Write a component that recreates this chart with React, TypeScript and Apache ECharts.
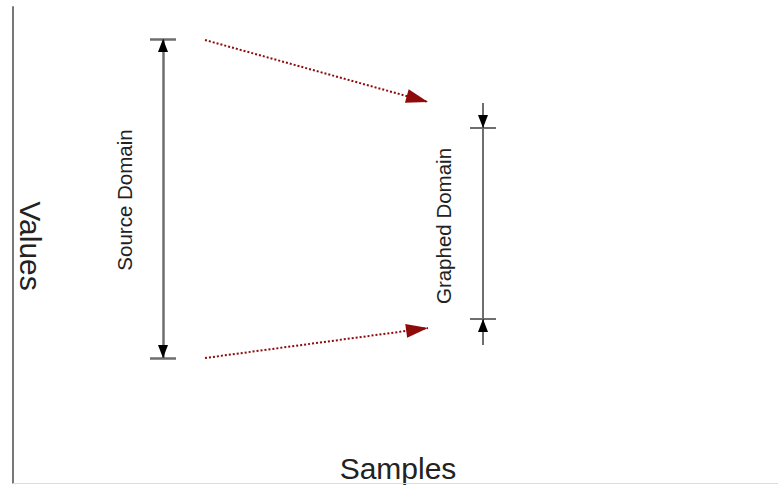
import React, { useEffect, useRef } from "react";
import * as echarts from "echarts";

// Diagram coordinates (x: samples axis units, y: value axis units)
const xRange = [0, 765];
const yRange = [0, 476];

const sourceX = 150;
const sourceDomain = [125, 444];
const sourceCapHalf = 13;

const graphedX = 470;
const graphedDomain = [164, 355];
const graphedExtent = [138, 380];
const graphedCapHalf = 13;

const mappingStartX = 192;
const mappingEndX = 415;
const mappingUpper = [443, 381];
const mappingLower = [125, 155];

const axisTitles = { x: "Samples", y: "Values" };
const domainLabels = { source: "Source Domain", graphed: "Graphed Domain" };

const GRAY = "#6e6e6e";
const RED = "#8f0a0a";
const BLACK_ARROW: [number, number] = [10, 13];
const RED_ARROW: [number, number] = [14, 22];

function arrowEnd(coord: number[], size: [number, number]) {
  return { coord, symbol: "triangle", symbolSize: size, symbolOffset: [0, size[1] / 2] };
}
function plainEnd(coord: number[]) {
  return { coord, symbol: "none" };
}

export default function App() {
  const ref = useRef<HTMLDivElement>(null);
  useEffect(() => {
    if (!ref.current) return;
    const chart = echarts.init(ref.current, undefined, { renderer: "svg" });
    const sourceLines = [
      [plainEnd([sourceX, sourceDomain[0]]), plainEnd([sourceX, sourceDomain[1]])],
      [plainEnd([sourceX - sourceCapHalf, sourceDomain[0]]), plainEnd([sourceX + sourceCapHalf, sourceDomain[0]])],
      [plainEnd([sourceX - sourceCapHalf, sourceDomain[1]]), plainEnd([sourceX + sourceCapHalf, sourceDomain[1]])],
    ];
    const graphedLines = [
      [plainEnd([graphedX, graphedExtent[0]]), plainEnd([graphedX, graphedExtent[1]])],
      [plainEnd([graphedX - graphedCapHalf, graphedDomain[0]]), plainEnd([graphedX + graphedCapHalf, graphedDomain[0]])],
      [plainEnd([graphedX - graphedCapHalf, graphedDomain[1]]), plainEnd([graphedX + graphedCapHalf, graphedDomain[1]])],
    ];
    // black arrowheads: short segments ending on the domain limits
    const arrowHeads = [
      [plainEnd([sourceX, sourceDomain[0] + 5]), arrowEnd([sourceX, sourceDomain[0]], BLACK_ARROW)],
      [plainEnd([sourceX, sourceDomain[1] - 5]), arrowEnd([sourceX, sourceDomain[1]], BLACK_ARROW)],
      [plainEnd([graphedX, graphedDomain[1] + 5]), arrowEnd([graphedX, graphedDomain[1]], BLACK_ARROW)],
      [plainEnd([graphedX, graphedDomain[0] - 5]), arrowEnd([graphedX, graphedDomain[0]], BLACK_ARROW)],
    ];
    const redLines = [
      [plainEnd([mappingStartX, mappingUpper[0]]), arrowEnd([mappingEndX, mappingUpper[1]], RED_ARROW)],
      [plainEnd([mappingStartX, mappingLower[0]]), arrowEnd([mappingEndX, mappingLower[1]], RED_ARROW)],
    ];

    const ml = (data: any[], lineStyle: any) => ({
      type: "line",
      data: [],
      silent: true,
      markLine: {
        silent: true,
        animation: false,
        label: { show: false },
        lineStyle,
        emphasis: { disabled: true },
        data,
      },
    });

    const text = (t: string, x: number, y: number, rot: number, size: number) => ({
      type: "text",
      x,
      y,
      rotation: rot,
      style: {
        text: t,
        font: `${size}px "Liberation Sans", Arial, sans-serif`,
        fill: "#222",
        align: "center",
        verticalAlign: "middle",
      },
    });

    chart.setOption({
      animation: false,
      backgroundColor: "#ffffff",
      grid: { left: 13, right: 0, top: 7, bottom: 2 },
      xAxis: {
        type: "value",
        min: xRange[0],
        max: xRange[1],
        axisLine: { show: true, onZero: false, lineStyle: { color: "#dcdcdc", width: 1 } },
        axisTick: { show: false },
        axisLabel: { show: false },
        splitLine: { show: false },
      },
      yAxis: {
        type: "value",
        min: yRange[0],
        max: yRange[1],
        axisLine: { show: true, onZero: false, lineStyle: { color: "#777777", width: 2 } },
        axisTick: { show: false },
        axisLabel: { show: false },
        splitLine: { show: false },
      },
      series: [
        ml(sourceLines, { color: GRAY, width: 2.5, type: "solid" }),
        ml(graphedLines, { color: GRAY, width: 2, type: "solid" }),
        ml(arrowHeads, { color: "#000000", width: 0.5, type: "solid" }),
        ml(redLines, { color: RED, width: 2, type: "dotted" }),
      ],
      graphic: [
        text(axisTitles.y, 30, 246, -Math.PI / 2, 30),
        text(axisTitles.x, 398, 468, 0, 30),
        text(domainLabels.source, 124, 200, Math.PI / 2, 20.5),
        text(domainLabels.graphed, 443, 226, Math.PI / 2, 20.5),
      ],
    });
    return () => chart.dispose();
  }, []);
  return <div ref={ref} style={{ width: 778, height: 485, position: "absolute", left: 0, top: 0 }} />;
}
